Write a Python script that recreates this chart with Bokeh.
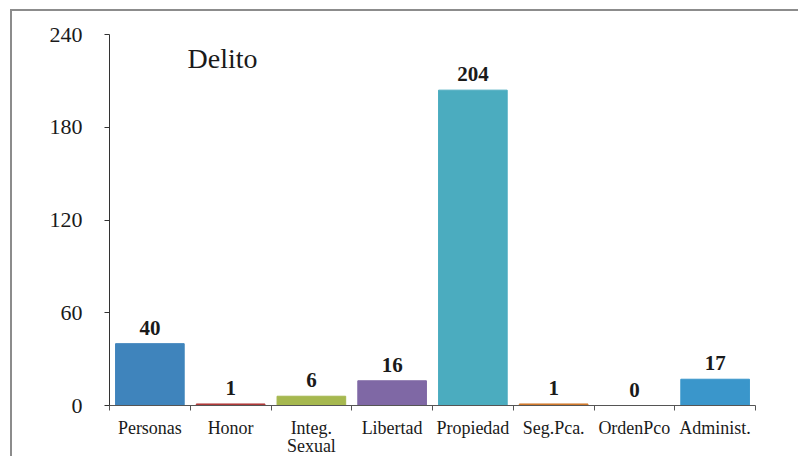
from bokeh.plotting import figure
from bokeh.models import Range1d, FixedTicker, Label, ColumnDataSource
from bokeh.embed import file_html
from bokeh.resources import INLINE
from bokeh.core.properties import value

categories = ["Personas", "Honor", "Integ.\nSexual", "Libertad", "Propiedad", "Seg.Pca.", "OrdenPco", "Administ."]
counts = [40, 1, 6, 16, 204, 1, 0, 17]
colors = ["#3F84BC", "#B03A3A", "#A6B84F", "#7F68A5", "#4BACBF", "#D27A2C", "#FFFFFF", "#3A96CB"]
y_ticks = [0, 60, 120, 180, 240]
title_text = "Delito"

FONT = "Liberation Serif"

xs = [i + 0.5 for i in range(len(categories))]
src = ColumnDataSource(dict(x=xs, top=counts, color=colors, label=[str(c) for c in counts]))

p = figure(width=788, height=447, output_backend="svg", toolbar_location=None,
           x_range=Range1d(0, len(categories)), y_range=Range1d(0, 240),
           min_border_left=97, min_border_top=23, min_border_bottom=53, min_border_right=45)
p.styles = {"border-left": "2px solid #8c8c8c", "border-top": "2px solid #8c8c8c",
            "margin-left": "10px", "margin-top": "9px"}
p.outline_line_color = None
p.xgrid.visible = False
p.ygrid.visible = False
p.background_fill_color = "white"
p.border_fill_color = "white"

p.vbar(x="x", top="top", width=0.85, color="color", source=src)
p.text(x="x", y="top", text="label", source=src, y_offset=-16,
       text_align="center", text_baseline="alphabetic",
       text_font=value(FONT), text_font_style="bold", text_font_size="21px",
       text_color="#1a1a1a")

p.add_layout(Label(x=0.966, y=224.4, text=title_text, text_font=FONT, text_font_size="28px",
                   text_baseline="alphabetic", text_align="left", text_color="#1a1a1a"))

# y axis
ya = p.yaxis[0]
ya.ticker = FixedTicker(ticks=y_ticks)
ya.major_tick_out = 5
ya.major_tick_in = 0
ya.minor_tick_out = 0
ya.minor_tick_in = 0
ya.major_label_standoff = 22
ya.major_label_text_font = FONT
ya.major_label_text_font_size = "22px"
ya.major_label_text_color = "#1a1a1a"
ya.axis_line_color = "#333333"
ya.major_tick_line_color = "#333333"

# x axis: labels at centres, tick marks at boundaries
xa = p.xaxis[0]
xa.ticker = FixedTicker(ticks=xs, minor_ticks=list(range(len(categories) + 1)))
xa.major_label_overrides = {x: c for x, c in zip(xs, categories)}
xa.major_tick_out = 0
xa.major_tick_in = 0
xa.minor_tick_out = 5
xa.minor_tick_in = 0
xa.minor_tick_line_color = "#555555"
xa.axis_line_color = "#555555"
xa.major_label_standoff = 7
xa.major_label_text_font = FONT
xa.major_label_text_font_size = "18px"
xa.major_label_text_line_height = 0.9
xa.major_label_text_color = "#1a1a1a"

open("out.html", "w").write(file_html(p, INLINE))
